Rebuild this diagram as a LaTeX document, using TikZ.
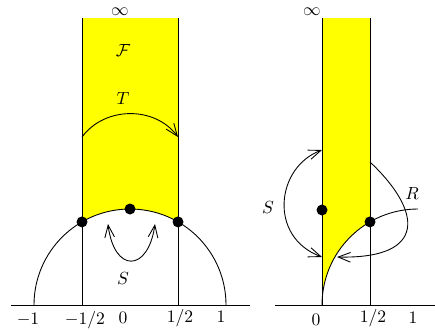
\documentclass[tikz,border=0pt]{standalone}
\usetikzlibrary{arrows.meta}
\definecolor{fy}{RGB}{255,255,0}
\begin{document}
\begin{tikzpicture}[x=0.02cm,y=0.02cm,
  ln/.style={line width=0.5pt},
  dot/.style={circle,fill=black,inner sep=0pt,minimum size=0.22cm},
  arr/.style={line width=0.5pt,-{Straight Barb[length=7pt,width=5.5pt]}},
  arrb/.style={line width=0.5pt,{Straight Barb[length=7pt,width=5.5pt]}-{Straight Barb[length=7pt,width=5.5pt]}},
  lab/.style={inner sep=0pt}]
\useasboundingbox (0,0) rectangle (435,329);
% ---------- left picture ----------
\fill[fy] (82,311) -- (82,107.1) arc[start angle=120,end angle=60,radius=96] -- (178,311) -- cycle;
\coordinate (La) at (11,24);
\coordinate (Lb) at (250,24);
\coordinate (Lm1) at (34,24);
\coordinate (Lp1) at (226,24);
\coordinate (Lh1) at (82,24);
\coordinate (Lh2) at (178,24);
\coordinate (Lt1) at (82,311);
\coordinate (Lt2) at (178,311);
\draw[ln] (La) -- (Lb);
\draw[ln] (Lp1) arc[start angle=0,end angle=180,radius=96];
\draw[ln] (Lh1) -- (Lt1);
\draw[ln] (Lh2) -- (Lt2);
\node[dot] (rho2) at (82,107.1) {};
\node[dot] (rho) at (178,107.1) {};
\node[dot] (i1) at (130,120) {};
\coordinate (T1) at (82,192);
\coordinate (T2) at (178,192);
\draw[arr] (T1) .. controls (105,223) and (155,223) .. (T2);
\coordinate (S1) at (108,105);
\coordinate (S2) at (155,105);
\draw[arrb] (S1) .. controls (114,56) and (148,56) .. (S2);
\node[lab] (inf1) at (120,317) {$\infty$};
\node[lab] (F) at (123,279) {$\mathcal{F}$};
\node[lab] (T) at (123,231) {$T$};
\node[lab] (Sl) at (123,51) {$S$};
\node[lab] (xm1) at (28,9) {$-1$};
\node[lab] (xmh) at (85,9) {$-1/2$};
\node[lab] (x0) at (123,11) {$0$};
\node[lab] (xh) at (180,11) {$1/2$};
\node[lab] (x1) at (221,12) {$1$};
% ---------- right picture ----------
\fill[fy] (322,311) -- (322,24) arc[start angle=180,end angle=120,radius=96] -- (370,311) -- cycle;
\coordinate (Ra) at (275,24);
\coordinate (Rb) at (435,24);
\coordinate (R0) at (322,24);
\coordinate (Rh) at (370,24);
\coordinate (Rt0) at (322,311);
\coordinate (Rth) at (370,311);
\draw[ln] (Ra) -- (Rb);
\draw[ln] (R0) -- (Rt0);
\draw[ln] (Rh) -- (Rth);
\draw[ln] (R0) arc[start angle=180,end angle=90,radius=96];
\node[dot] (i2) at (322,119) {};
\node[dot] (rho3) at (370,107.1) {};
\coordinate (RS1) at (322,179);
\coordinate (RS2) at (322,72);
\draw[arrb] (RS1) .. controls (276,162) and (268,92) .. (RS2);
\coordinate (RR1) at (370,167);
\coordinate (RR2) at (337,72);
\draw[arr] (RR1) .. controls (422,118) and (428,70) .. (RR2);
\node[lab] (inf2) at (312,317) {$\infty$};
\node[lab] (Sr) at (268,122) {$S$};
\node[lab] (Rl) at (412,136) {$R$};
\node[lab] (y0) at (316,9) {$0$};
\node[lab] (yh) at (373,11) {$1/2$};
\node[lab] (y1) at (413,11) {$1$};
\end{tikzpicture}
\end{document}
